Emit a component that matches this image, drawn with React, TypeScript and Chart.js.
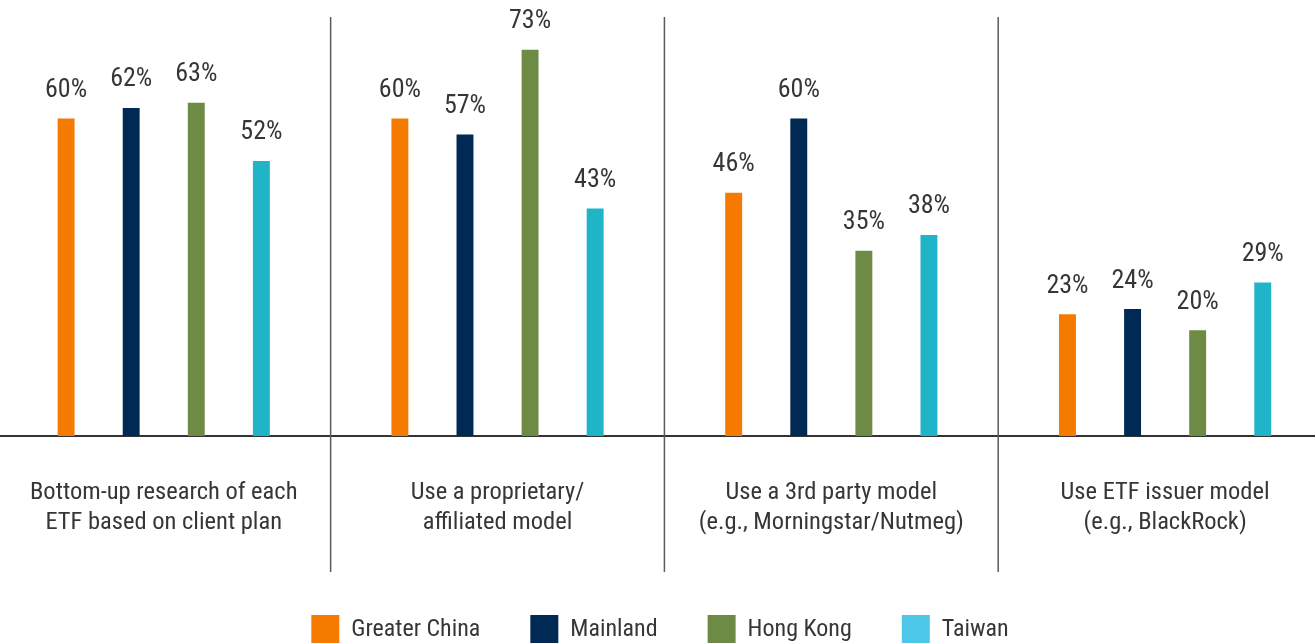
import React, { useEffect, useRef } from "react";
import { Chart, registerables } from "chart.js";

Chart.register(...registerables);

const categories: string[][] = [
  ["Bottom-up research of each", "ETF based on client plan"],
  ["Use a proprietary/", "affiliated model"],
  ["Use a 3rd party model", "(e.g., Morningstar/Nutmeg)"],
  ["Use ETF issuer model", "(e.g., BlackRock)"],
];
const seriesNames = ["Greater China", "Mainland", "Hong Kong", "Taiwan"];
const greaterChina = [60, 60, 46, 23];
const mainland = [62, 57, 60, 24];
const hongKong = [63, 73, 35, 20];
const taiwan = [52, 43, 38, 29];
const barColors = ["#F47B00", "#002A54", "#6E8B45", "#20B4C8"];
const legendColors = ["#F47B00", "#002A54", "#6E8B45", "#4CC7E8"];
const yMax = 79.2;

const FONT = "'Roboto Condensed', 'Liberation Sans Narrow', 'Arial Narrow', 'DejaVu Sans Condensed', Roboto, sans-serif";
const TEXT = "#363636";

const valueLabels = {
  id: "valueLabels",
  afterDatasetsDraw(chart: any) {
    const ctx = chart.ctx;
    ctx.save();
    ctx.font = `26px ${FONT}`;
    ctx.fillStyle = TEXT;
    ctx.textAlign = "center";
    ctx.textBaseline = "middle";
    chart.data.datasets.forEach((ds: any, i: number) => {
      const meta = chart.getDatasetMeta(i);
      meta.data.forEach((bar: any, j: number) => {
        ctx.fillText(`${ds.data[j]}%`, bar.x, bar.y - 28);
      });
    });
    ctx.restore();
  },
};

const separators = {
  id: "separators",
  afterDraw(chart: any) {
    const ctx = chart.ctx;
    const x = chart.scales.x;
    const area = chart.chartArea;
    ctx.save();
    ctx.strokeStyle = "#5a5a5a";
    ctx.lineWidth = 1.5;
    for (let i = 0; i < categories.length - 1; i++) {
      const px = (x.getPixelForValue(i) + x.getPixelForValue(i + 1)) / 2;
      ctx.beginPath();
      ctx.moveTo(px, area.top);
      ctx.lineTo(px, area.bottom + 136);
      ctx.stroke();
    }
    ctx.restore();
  },
};

export default function App() {
  const ref = useRef<HTMLCanvasElement | null>(null);
  useEffect(() => {
    if (!ref.current) return;
    const seriesData = [greaterChina, mainland, hongKong, taiwan];
    const chart = new Chart(ref.current, {
      type: "bar",
      data: {
        labels: categories,
        datasets: seriesNames.map((name, i) => ({
          label: name,
          data: seriesData[i],
          backgroundColor: barColors[i],
          borderWidth: 0,
          barPercentage: 0.26,
          categoryPercentage: 0.78,
        })),
      },
      options: {
        animation: false,
        responsive: true,
        maintainAspectRatio: false,
        layout: { padding: { top: 17, left: 0, right: 0, bottom: 0 } },
        plugins: {
          tooltip: { enabled: false },
          legend: {
            position: "bottom",
            labels: {
              boxWidth: 28,
              boxHeight: 30,
              padding: 50,
              color: TEXT,
              font: { family: FONT, size: 24 },
              generateLabels: () =>
                seriesNames.map((n, i) => ({
                  text: n,
                  fillStyle: legendColors[i],
                  strokeStyle: legendColors[i],
                  lineWidth: 0,
                  hidden: false,
                  datasetIndex: i,
                  fontColor: TEXT,
                })),
            },
          },
        },
        scales: {
          x: {
            grid: { display: false, drawTicks: false },
            border: { display: true, color: "#333333", width: 2 },
            ticks: {
              padding: 42,
              color: TEXT,
              font: { family: FONT, size: 24.5, lineHeight: 1.23 },
              maxRotation: 0,
              autoSkip: false,
            },
            afterFit: (s: any) => {
              s.height = 129;
            },
          },
          y: { display: false, min: 0, max: yMax },
        },
      },
      plugins: [valueLabels, separators],
    });
    return () => chart.destroy();
  }, []);
  return (
    <div style={{ position: "fixed", left: 0, top: 0, width: 1315, height: 643, overflow: "hidden", background: "#fff" }}>
      <div style={{ position: "absolute", left: -12, top: 0, width: 1344, height: 655 }}>
        <canvas ref={ref} />
      </div>
    </div>
  );
}
